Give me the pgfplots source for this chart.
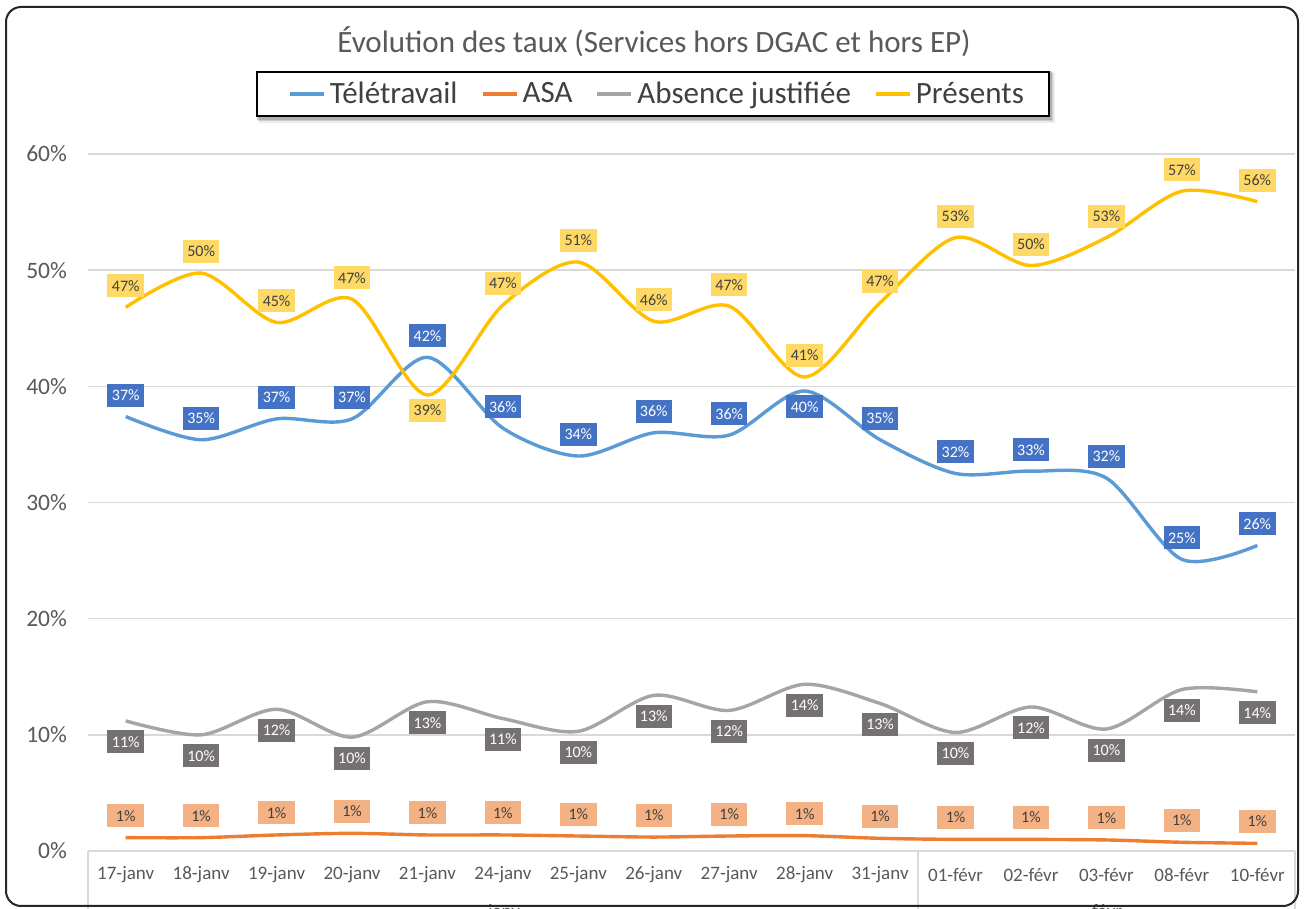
\documentclass[border=0pt]{standalone}
\usepackage{pgfplots}
\pgfplotsset{compat=1.18}
\usepackage{pgfplotstable}
\usepackage{fontspec}
\setmainfont{Carlito}
\definecolor{cTel}{HTML}{5B9BD5}
\definecolor{cASA}{HTML}{ED7D31}
\definecolor{cAbs}{HTML}{A5A5A5}
\definecolor{cPre}{HTML}{FFC000}
\definecolor{bTel}{HTML}{4472C4}
\definecolor{bASA}{HTML}{F4B183}
\definecolor{bAbs}{HTML}{767171}
\definecolor{bPre}{HTML}{FFD966}
\definecolor{txt}{HTML}{595959}
\definecolor{lbl}{HTML}{404040}
\definecolor{gridc}{HTML}{D9D9D9}

\pgfplotstableread{
x y lab off
0 37.4 37 10.75
1 35.4 35 10.75
2 37.2 37 10.75
3 37.2 37 10.75
4 42.5 42 10.75
5 36.4 36 10.75
6 34.0 34 10.75
7 36.0 36 10.75
8 35.8 36 10.75
9 39.6 40 -8
10 35.4 35 10.75
11 32.5 32 10.75
12 32.7 33 10.75
13 32.1 32 10.75
14 25.1 25 10.75
15 26.3 26 10.75
}\tele

\pgfplotstableread{
x y lab off
0 1.15 1 11
1 1.15 1 11
2 1.38 1 11
3 1.52 1 11
4 1.38 1 11
5 1.38 1 11
6 1.29 1 11
7 1.20 1 11
8 1.29 1 11
9 1.32 1 11
10 1.09 1 11
11 1.00 1 11
12 1.00 1 11
13 0.95 1 11
14 0.75 1 11
15 0.66 1 11
}\asa

\pgfplotstableread{
x y lab off
0 11.2 11 -10.5
1 10.0 10 -10.5
2 12.2 12 -10.5
3 9.8 10 -10.5
4 12.85 13 -10.5
5 11.4 11 -10.5
6 10.3 10 -10.5
7 13.4 13 -10.5
8 12.1 12 -10.5
9 14.35 14 -10.5
10 12.7 13 -10.5
11 10.2 10 -10.5
12 12.4 12 -10.5
13 10.5 10 -10.5
14 13.9 14 -10.5
15 13.7 14 -10.5
}\absj

\pgfplotstableread{
x y lab off
0 46.8 47 10.75
1 49.75 50 10.75
2 45.5 45 10.75
3 47.5 47 10.75
4 39.25 39 -7.5
5 47.0 47 10.75
6 50.7 51 10.75
7 45.6 46 10.75
8 46.9 47 10.75
9 40.8 41 10.75
10 47.2 47 10.75
11 52.8 53 10.75
12 50.4 50 10.75
13 52.8 53 10.75
14 56.8 57 10.75
15 55.9 56 10.75
}\pres

\pgfplotsset{
  lblplot/.style n args={3}{draw=none, mark=none, forget plot,
    nodes near coords={\pgfplotspointmeta\%}, point meta=explicit symbolic,
    visualization depends on={\thisrow{off}\as\myoff},
    every node near coord/.append style={anchor=center, yshift=\myoff,
      font=\fontsize{8}{9}\selectfont, minimum width=18.25pt, minimum height=11.5pt, inner sep=1pt,
      fill=#1, text=#2}},
}

\begin{document}
\begin{tikzpicture}[x=1pt,y=1pt]
\useasboundingbox (0,0) rectangle (653,454.5);
\clip (0,0) rectangle (653,454.5);
\fill[white] (0,0) rectangle (653,454.5);
% legend shadow
\fill[black, opacity=0.08] (129.5,393) rectangle (527.5,418);
\fill[black, opacity=0.12] (129,394) rectangle (526.5,418.5);
\fill[black, opacity=0.15] (128.5,394.5) rectangle (526,419);
\begin{axis}[
  at={(44pt,29pt)}, anchor=south west,
  scale only axis, width=603.5pt, height=348.5pt,
  xmin=-0.5, xmax=15.5, ymin=0, ymax=60,
  axis line style={draw=none},
  tick style={draw=none},
  ymajorgrids, grid style={color=gridc, line width=0.8pt},
  ytick={0,10,20,30,40,50,60},
  yticklabels={0\%,10\%,20\%,30\%,40\%,50\%,60\%},
  yticklabel style={font=\fontsize{11.75}{13}\selectfont, text=txt, xshift=-7pt},
  xtick={0,...,15},
  xticklabels={17-janv,18-janv,19-janv,20-janv,21-janv,24-janv,25-janv,26-janv,27-janv,28-janv,31-janv,01-févr,02-févr,03-févr,08-févr,10-févr},
  xticklabel style={font=\fontsize{9.5}{11}\selectfont, text=txt, anchor=center, yshift=-12pt},
  legend columns=4,
  legend style={at={(0.468,1.086)}, anchor=center, draw=black, line width=1pt, fill=white,
    font=\fontsize{15.5}{18}\selectfont, text=lbl,
    /tikz/every even column/.append style={column sep=4.5pt},
    inner xsep=10.5pt, inner ysep=3pt},
  legend image code/.code={\path[draw=none, fill=none] (0pt,-0.5pt) rectangle (23pt,0.5pt);\draw[#1, line width=2pt] (6pt,0pt) -- (23pt,0pt);},
]
\addplot[cTel, line width=1.7pt, smooth, tension=0.5, mark=none] table[x=x,y=y]{\tele};
\addlegendentry{Télétravail}
\addplot[cASA, line width=1.7pt, smooth, tension=0.5, mark=none] table[x=x,y=y]{\asa};
\addlegendentry{ASA}
\addplot[cAbs, line width=1.7pt, smooth, tension=0.5, mark=none] table[x=x,y=y]{\absj};
\addlegendentry{Absence justifiée}
\addplot[cPre, line width=1.7pt, smooth, tension=0.5, mark=none] table[x=x,y=y]{\pres};
\addlegendentry{Présents}

\addplot[lblplot={bTel}{white}{}] table[x=x,y=y,meta=lab]{\tele};
\addplot[lblplot={bASA}{lbl}{}] table[x=x,y=y,meta=lab]{\asa};
\addplot[lblplot={bAbs}{white}{}] table[x=x,y=y,meta=lab]{\absj};
\addplot[lblplot={bPre}{lbl}{}] table[x=x,y=y,meta=lab]{\pres};
\end{axis}
\draw[gridc, line width=0.8pt] (44,29) -- (44,-5);
\draw[gridc, line width=0.8pt] (458.9,29) -- (458.9,-5);
\draw[gridc, line width=0.8pt] (647.5,29) -- (647.5,-5);
\node[font=\fontsize{9.5}{11}\selectfont, text=txt, anchor=north, inner sep=0pt] at (252,2.5) {janv};
\node[font=\fontsize{9.5}{11}\selectfont, text=txt, anchor=north, inner sep=0pt] at (553.5,2.5) {févr};
\node[font=\fontsize{15.5}{18}\selectfont, text=txt] at (327,433.5) {Évolution des taux (Services hors DGAC et hors EP)};
\draw[line width=1pt, color=black!85, rounded corners=7.5pt] (3,1.5) rectangle (649,451);
\end{tikzpicture}
\end{document}
